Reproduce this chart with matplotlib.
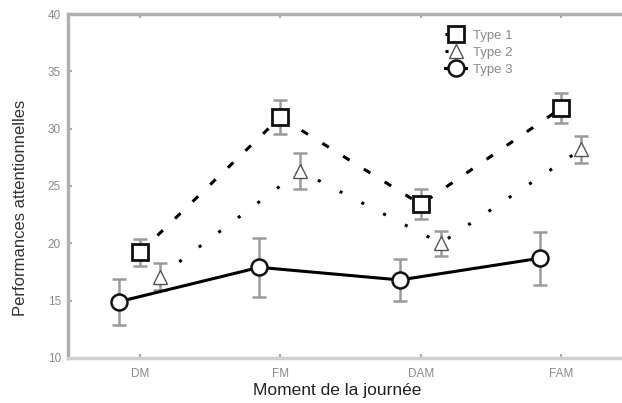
import matplotlib
matplotlib.use("Agg")
import matplotlib.pyplot as plt
import numpy as np

categories = ["DM", "FM", "DAM", "FAM"]
series_names = ["Type 1", "Type 2", "Type 3"]
type1_mean = [19.2, 31.0, 23.4, 31.8]
type1_err = [1.2, 1.5, 1.3, 1.3]
type2_mean = [17.1, 26.3, 20.0, 28.2]
type2_err = [1.2, 1.6, 1.1, 1.2]
type3_mean = [14.9, 17.9, 16.8, 18.7]
type3_err = [2.0, 2.6, 1.8, 2.3]
y_ticks = [10, 15, 20, 25, 30, 35, 40]

plt.rcParams['font.family'] = ['Liberation Sans', 'DejaVu Sans']

fig = plt.figure(figsize=(6.22, 4.03), dpi=100)
ax = fig.add_axes([0.109, 0.112, 0.89, 0.853])

x = np.arange(len(categories))
specs = [
    (type1_mean, type1_err, 0.0, 's', (0, (2.5, 5.5)), 11, 2.0, '#111111'),
    (type2_mean, type2_err, 0.142, '^', (0, (1, 7)), 10, 1.0, '#555555'),
    (type3_mean, type3_err, -0.149, 'o', '-', 11.5, 1.8, '#111111'),
]
for (m, e, off, mk, ls, ms, mew, mec), name in zip(specs, series_names):
    xs = x + off
    ax.errorbar(xs, m, yerr=e, fmt='none', ecolor='#9a9a9a', elinewidth=1.8,
                capsize=5, capthick=1.8, zorder=2)
    ax.plot(xs, m, linestyle=ls, color='black', lw=2.2, marker=mk,
            markersize=ms, markerfacecolor='white', markeredgecolor=mec,
            markeredgewidth=mew, label=name, zorder=3)

ax.set_xlim(-0.512, 3.427)
ax.set_ylim(10, 40)
ax.set_xticks(x)
ax.set_xticklabels(categories)
ax.set_yticks(y_ticks)
ax.set_yticklabels([str(t) for t in y_ticks])
ax.tick_params(axis='both', labelsize=8.5, labelcolor='#8a8a8a', direction='in',
               length=3, color='#aaaaaa', top=True, width=1.5)
ax.tick_params(axis='x', pad=7)
ax.tick_params(axis='y', pad=5)
for s in ['left', 'top', 'bottom']:
    ax.spines[s].set_color('#b0b0b0')
    ax.spines[s].set_linewidth(2.5)
ax.spines['bottom'].set_color('#d0d0d0')
ax.spines['right'].set_visible(False)

ax.set_xlabel("Moment de la journée", fontsize=12.5, color='#222222', va='top')
ax.xaxis.set_label_coords(0.486, -0.072)
ax.set_ylabel("Performances attentionnelles", fontsize=12, color='#333333')
ax.yaxis.set_label_coords(-0.072, 0.436)

leg = ax.legend(loc='upper left', bbox_to_anchor=(0.665, 0.981), frameon=False,
                fontsize=9.5, handlelength=1.6, labelspacing=0.35, handletextpad=0.5,
                labelcolor='#8a8a8a', borderpad=0.2)

fig.savefig("out.png", dpi=100)
